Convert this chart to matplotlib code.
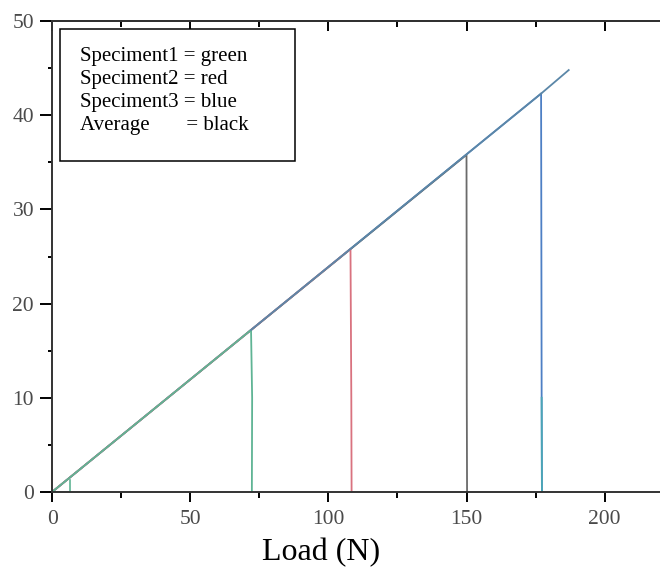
import matplotlib.pyplot as plt
from matplotlib.patches import Rectangle
from matplotlib.ticker import MultipleLocator

plt.rcParams['font.family'] = ['Liberation Serif', 'DejaVu Serif']

# Load (N) vs deflection readings for each specimen
spec1_load = [0, 72, 72.4, 72.3]
spec1_defl = [0, 17.2, 10.0, 0]
spec2_load = [0, 108, 108.3, 108.4]
spec2_defl = [0, 25.8, 10.0, 0]
spec3_load = [0, 177, 177.2, 177.3]
spec3_defl = [0, 42.3, 10.0, 0]
avg_load = [0, 150, 150.1, 150.2]
avg_defl = [0, 35.8, 10.0, 0]
tail_load = [177, 187]
tail_defl = [42.3, 44.8]
# little toe at the start of specimen 1
toe_load = [0, 6.5, 6.5]
toe_defl = [0, 0, 1.3]

legend_lines = ['Speciment1 = green', 'Speciment2 = red',
                'Speciment3 = blue', 'Average       = black']

fig = plt.figure(figsize=(6.6, 5.7), dpi=100)
ax = fig.add_axes([0.079, 0.137, 0.925, 0.826])

ax.plot(spec3_load, spec3_defl, color='#4d7fc4', lw=1.3)
ax.plot(spec3_load[2:], spec3_defl[2:], color='#4aa6b6', lw=1.3)
ax.plot(tail_load, tail_defl, color='#5b87a8', lw=1.3)
ax.plot(avg_load, avg_defl, color='#6a6a6a', lw=1.3)
ax.plot(spec2_load, spec2_defl, color='#d9727f', lw=1.3)
ax.plot(spec1_load, spec1_defl, color='#5fb494', lw=1.3)
ax.plot(toe_load, toe_defl, color='#5fb494', lw=1.2)
# shared elastic line drawn over the green part above 72 N
ax.plot([72, 177], [17.2, 42.3], color='#5b87a8', lw=1.3)

ax.set_xlim(0, 221)
ax.set_ylim(0, 50)
ax.xaxis.set_major_locator(MultipleLocator(50))
ax.xaxis.set_minor_locator(MultipleLocator(25))
ax.yaxis.set_major_locator(MultipleLocator(10))
ax.yaxis.set_minor_locator(MultipleLocator(5))
ax.tick_params(axis='both', which='both', direction='out', width=1.4,
               labelsize=15.5, labelcolor='#4a4a4a')
ax.tick_params(axis='x', which='major', length=7, pad=6)
ax.tick_params(axis='x', which='minor', length=4)
ax.tick_params(axis='y', which='major', length=9, pad=4)
ax.tick_params(axis='y', which='minor', length=3)
for side in ['left', 'bottom', 'top']:
    ax.spines[side].set_linewidth(1.4)
    ax.spines[side].set_color('#333333')
ax.spines['right'].set_visible(False)

# top ticks point into the plot
top = ax.secondary_xaxis('top')
top.xaxis.set_major_locator(MultipleLocator(50))
top.xaxis.set_minor_locator(MultipleLocator(25))
top.tick_params(which='both', direction='in', labeltop=False, width=1.4)
top.tick_params(which='major', length=7)
top.tick_params(which='minor', length=4)
top.spines['top'].set_linewidth(1.4)

ax.set_xlabel('Load (N)', fontsize=23)
ax.xaxis.set_label_coords(0.44, -0.128, transform=ax.transAxes)
ax.xaxis.label.set_va('center')

# legend box drawn as plain text inside a frame
ax.add_patch(Rectangle((0.013, 0.703), 0.385, 0.28, transform=ax.transAxes,
                       fc='white', ec='black', lw=1.1, zorder=5))
ax.text(0.046, 0.945, '\n'.join(legend_lines), transform=ax.transAxes,
        fontsize=15, va='top', ha='left', linespacing=1.29, zorder=6)

plt.savefig('out.png', dpi=100)
